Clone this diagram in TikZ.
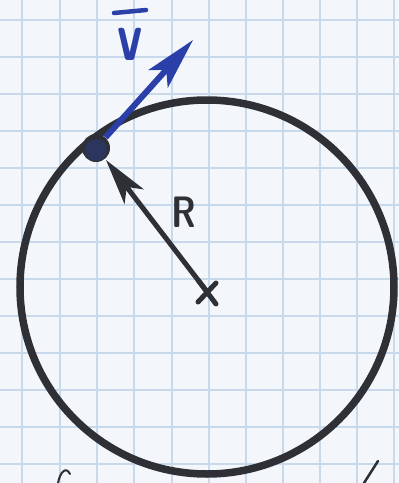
\documentclass[tikz,border=0pt]{standalone}
\usetikzlibrary{arrows.meta}
\definecolor{paper}{HTML}{F3F6FA}
\definecolor{gridc}{HTML}{C9D9EC}
\definecolor{ink}{HTML}{2E3036}
\definecolor{blueink}{HTML}{2A40A8}
\tikzset{
  inkline/.style={draw=ink, line width=7.5pt, line cap=round},
  radarrow/.style={draw=ink, line width=5pt, -{Stealth[length=46pt,width=24pt,inset=12pt]}},
  velarrow/.style={draw=blueink, line width=6pt, -{Stealth[length=52pt,width=26pt,inset=12pt]}},
  lbl/.style={font=\sffamily\bfseries\fontsize{44}{44}\selectfont, inner sep=0pt}
}
\begin{document}
\begin{tikzpicture}[x=1pt,y=-1pt]
\useasboundingbox (0,0) rectangle (399,483);
\fill[paper] (0,0) rectangle (399,483);
% grid paper
\foreach \gx in {22,60,97,134,172,209,246,283,320,357,394}
  \draw[gridc, line width=1.2pt] (\gx,0) -- (\gx,483);
\foreach \gy in {20,57,94,131,168,205,242,279,316,353,390,427,464}
  \draw[gridc, line width=1.2pt] (0,\gy) -- (399,\gy);
% circle
\coordinate (C) at (207,287);
\draw[inkline] (C) circle[x radius=187, y radius=187];
% centre cross
\coordinate (O) at (208,293);
\draw[draw=ink, line width=5pt, line cap=round] (198,280) -- (216,304) (198,302) -- (216,283);
% point on the circle
\node[circle, fill=ink, minimum size=28pt, inner sep=0pt] (P) at (96,148) {};
\fill[blueink, opacity=0.35] (96,150) circle (11);
% radius arrow
\coordinate (Rtip) at (106,160);
\draw[radarrow] (O) -- (Rtip);
\node[lbl, text=ink, xscale=0.8] (R) at (184,212) {R};
% velocity arrow
\coordinate (Vtip) at (193,40);
\draw[velarrow] (P) -- (Vtip);
\node[lbl, text=blueink, xscale=1.15, yscale=1.6, anchor=base, text height=20pt, text depth=0pt] (V) at (130,60) {v};
\draw[draw=blueink, line width=4.5pt, line cap=round] (114,13) -- (146,10);
% fragments at the lower edge
\draw[draw=ink, line width=2pt, line cap=round] (58,483) .. controls (60,472) and (66,466) .. (70,474);
\draw[draw=ink, line width=2.5pt, line cap=round] (378,461) -- (364,483);
\end{tikzpicture}
\end{document}
